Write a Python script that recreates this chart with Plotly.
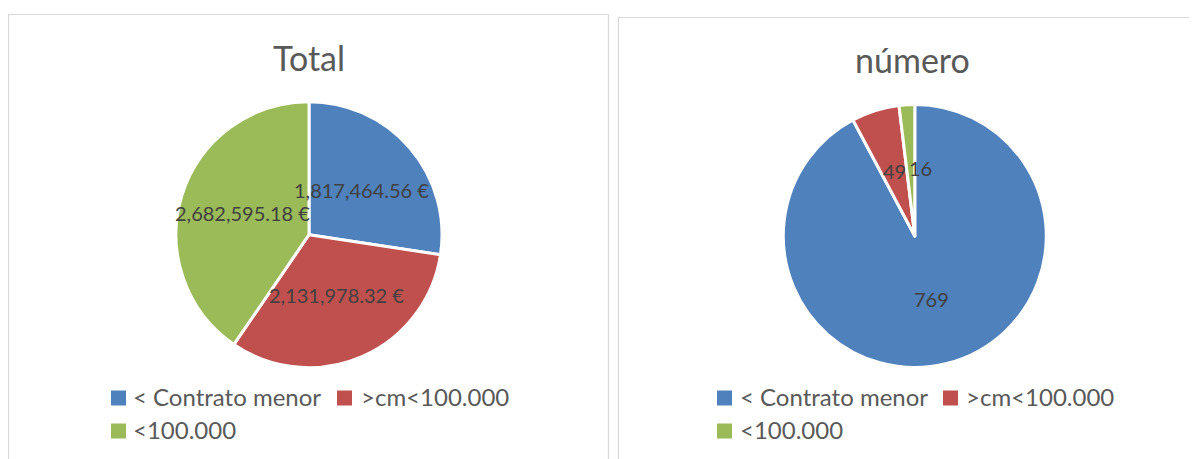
import math
import plotly.graph_objects as go

# ---- data ----
categories = ["< Contrato menor", ">cm<100.000", "<100.000"]
total_values = [1817464.56, 2131978.32, 2682595.18]
numero_values = [769, 49, 16]
chart_titles = ["Total", "número"]

# ---- style ----
colors = ["#4F81BD", "#C0504D", "#9BBB59"]
FONT = "Lato"
PAGE_OFF = 8                     # default body margin of the html page
W, H = 1197 - PAGE_OFF, 459 - PAGE_OFF
ML, MR, MT, MB = 0, 0, 0, 0
GW = W - ML - MR
GH = H - MT - MB


def pxx(page_x):
    return (page_x - PAGE_OFF - ML) / GW


def pxy(page_y):
    return 1 - (page_y - PAGE_OFF - MT) / GH


panels = [
    dict(cx=309.0, cy=234.7, r=133.0, values=total_values,
         fmt=lambda v: f"{v:,.2f} €",
         title_xy=(309, 57), nudges=[(0, 0), (0, -3), (0, -1)],
         # legend layout: (square left x, text left x, row center y) per entry
         legend_pos=[(111, 133, 398), (337, 361, 398), (111, 133, 431)]),
    dict(cx=914.8, cy=236.0, r=131.5, values=numero_values,
         fmt=lambda v: f"{v:d}",
         title_xy=(912, 60), nudges=[(0, -3), (0, 0), (10, 0)],
         legend_pos=[(717, 740, 398), (943, 966, 398), (717, 740, 431)]),
]
SQ = 15  # legend square size (px)

fig = go.Figure()
annotations = []
shapes = [
    # panel borders
    dict(type="rect", xref="paper", yref="paper",
         x0=pxx(8.5), x1=pxx(608.5), y0=pxy(480), y1=pxy(14.5),
         line=dict(color="#D9D9D9", width=1.2), fillcolor="rgba(0,0,0,0)", layer="below"),
    dict(type="rect", xref="paper", yref="paper",
         x0=pxx(618.5), x1=pxx(1220), y0=pxy(480), y1=pxy(17.5),
         line=dict(color="#D9D9D9", width=1.2), fillcolor="rgba(0,0,0,0)", layer="below"),
]

for i, p in enumerate(panels):
    fig.add_trace(go.Pie(
        labels=categories,
        values=p["values"],
        name=chart_titles[i],
        sort=False,
        direction="clockwise",
        rotation=0,
        textinfo="none",
        hoverinfo="label+value+percent",
        marker=dict(colors=colors, line=dict(color="white", width=3)),
        domain=dict(x=[pxx(p["cx"] - p["r"]), pxx(p["cx"] + p["r"])],
                    y=[pxy(p["cy"] + p["r"]), pxy(p["cy"] - p["r"])]),
        showlegend=False,
    ))
    # data labels at the middle angle of each slice
    tot = sum(p["values"])
    cum = 0.0
    for v, (dx, dy) in zip(p["values"], p["nudges"]):
        mid = (cum + v / 2) / tot * 2 * math.pi
        cum += v
        lx = p["cx"] + 0.52 * p["r"] * math.sin(mid) + dx
        ly = p["cy"] - 0.52 * p["r"] * math.cos(mid) + dy
        annotations.append(dict(
            x=pxx(lx), y=pxy(ly), xref="paper", yref="paper",
            text=p["fmt"](v), showarrow=False,
            xanchor="center", yanchor="middle",
            font=dict(family=FONT, size=20, color="#404040"),
        ))
    # chart title
    tx, ty = p["title_xy"]
    annotations.append(dict(
        x=pxx(tx), y=pxy(ty), xref="paper", yref="paper",
        text=chart_titles[i], showarrow=False,
        xanchor="center", yanchor="middle",
        font=dict(family=FONT, size=34, color="#595959"),
    ))
    # legend (one entry per category)
    for cat, col, (sx, tx_, ry) in zip(categories, colors, p["legend_pos"]):
        shapes.append(dict(
            type="rect", xref="paper", yref="paper",
            x0=pxx(sx), x1=pxx(sx + SQ), y0=pxy(ry + SQ / 2), y1=pxy(ry - SQ / 2),
            line=dict(width=0), fillcolor=col, layer="above",
        ))
        annotations.append(dict(
            x=pxx(tx_ - 2), y=pxy(ry - 1.5), xref="paper", yref="paper",
            text=cat, showarrow=False,
            xanchor="left", yanchor="middle",
            font=dict(family=FONT, size=24, color="#595959"),
        ))

fig.update_layout(
    width=W, height=H,
    margin=dict(l=ML, r=MR, t=MT, b=MB, autoexpand=False),
    paper_bgcolor="white",
    plot_bgcolor="white",
    showlegend=False,
    font=dict(family=FONT, color="#595959"),
    annotations=annotations,
    shapes=shapes,
)

fig.write_html("out.html")
